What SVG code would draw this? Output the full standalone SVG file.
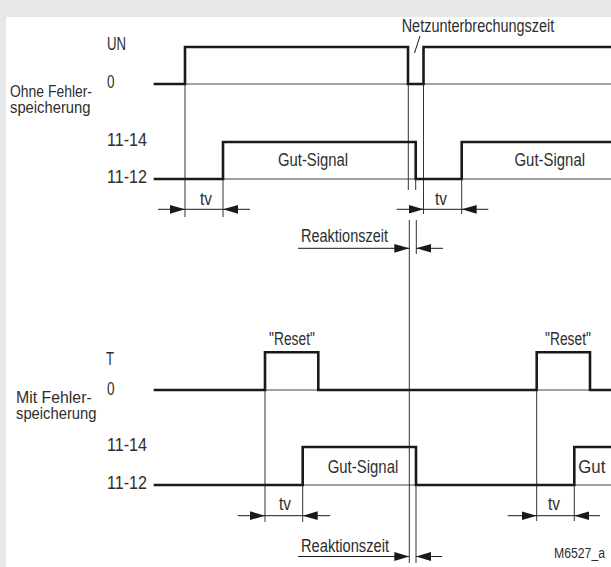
<svg xmlns="http://www.w3.org/2000/svg" width="611" height="567" viewBox="0 0 611 567">
<style>
text{font-family:"Liberation Sans",Arial,sans-serif;font-size:17.5px;fill:#2e2e2e}
.two{font-size:16.5px}
.thin{stroke:#333;stroke-width:1;fill:none}
.base{stroke:#444;stroke-width:1;fill:none}
.thick{stroke:#1a1a1a;stroke-width:2.6;fill:none;stroke-linejoin:miter;stroke-linecap:square}
.arr{stroke:#1a1a1a;stroke-width:1;fill:none;marker-end:url(#ah)}
.dim{stroke:#1a1a1a;stroke-width:1;fill:none}
</style>
<defs>
<marker id="ah" markerUnits="userSpaceOnUse" markerWidth="16" markerHeight="10" refX="15" refY="5" orient="auto">
<path d="M0,0.6 L15,5 L0,9.4 z" fill="#1a1a1a"/>
</marker>
</defs>
<rect x="0" y="0" width="611" height="567" fill="#e6e7e8"/>
<rect x="6" y="17" width="605" height="550" fill="#ffffff"/>

<g id="labels-top">
<text x="107" y="50" textLength="19" lengthAdjust="spacingAndGlyphs">UN</text>
<text x="107" y="87.5" textLength="7.5" lengthAdjust="spacingAndGlyphs">0</text>
<text class="two" x="10" y="96.5" textLength="82" lengthAdjust="spacingAndGlyphs">Ohne Fehler-</text>
<text class="two" x="10" y="112.8" textLength="80.5" lengthAdjust="spacingAndGlyphs">speicherung</text>
<text x="107" y="145.5" textLength="40" lengthAdjust="spacingAndGlyphs">11-14</text>
<text x="107" y="183" textLength="40" lengthAdjust="spacingAndGlyphs">11-12</text>
<text x="278" y="165.5" textLength="70" lengthAdjust="spacingAndGlyphs">Gut-Signal</text>
<text x="514.5" y="165.5" textLength="70.5" lengthAdjust="spacingAndGlyphs">Gut-Signal</text>
<text x="200" y="205" textLength="12" lengthAdjust="spacingAndGlyphs">tv</text>
<text x="435" y="205" textLength="12" lengthAdjust="spacingAndGlyphs">tv</text>
<text x="401.7" y="31.5" textLength="152.6" lengthAdjust="spacingAndGlyphs">Netzunterbrechungszeit</text>
<text x="301" y="241.7" textLength="87" lengthAdjust="spacingAndGlyphs">Reaktionszeit</text>
</g>

<g id="labels-bottom">
<text x="106" y="365" textLength="8" lengthAdjust="spacingAndGlyphs">T</text>
<text x="107" y="395" textLength="7.5" lengthAdjust="spacingAndGlyphs">0</text>
<text class="two" x="16" y="402.6" textLength="75.7" lengthAdjust="spacingAndGlyphs">Mit Fehler-</text>
<text class="two" x="16" y="418.9" textLength="80.5" lengthAdjust="spacingAndGlyphs">speicherung</text>
<text x="269" y="345" textLength="46" lengthAdjust="spacingAndGlyphs">"Reset"</text>
<text x="545" y="345" textLength="46" lengthAdjust="spacingAndGlyphs">"Reset"</text>
<text x="107" y="450.7" textLength="40" lengthAdjust="spacingAndGlyphs">11-14</text>
<text x="107" y="488.5" textLength="40" lengthAdjust="spacingAndGlyphs">11-12</text>
<text x="327.7" y="473.3" textLength="70.6" lengthAdjust="spacingAndGlyphs">Gut-Signal</text>
<text x="578.3" y="473.3" textLength="27" lengthAdjust="spacingAndGlyphs">Gut</text>
<text x="279" y="510" textLength="12" lengthAdjust="spacingAndGlyphs">tv</text>
<text x="548" y="510" textLength="12" lengthAdjust="spacingAndGlyphs">tv</text>
<text x="301" y="551.5" textLength="88" lengthAdjust="spacingAndGlyphs">Reaktionszeit</text>
<text x="554" y="558" style="font-size:14px" textLength="51" lengthAdjust="spacingAndGlyphs">M6527_a</text>
</g>

<g id="connectors">
<line class="base" x1="155" y1="84" x2="611" y2="84"/>
<line class="base" x1="155" y1="179" x2="611" y2="179"/>
<line class="base" x1="155" y1="390" x2="611" y2="390"/>
<line class="base" x1="155" y1="485" x2="611" y2="485"/>

<line class="thin" x1="185" y1="84" x2="185" y2="217"/>
<line class="thin" x1="223" y1="179" x2="223" y2="217"/>
<line class="thin" x1="408.3" y1="84" x2="408.3" y2="190"/>
<line class="thin" x1="415.7" y1="179" x2="415.7" y2="190"/>
<line class="thin" x1="423.5" y1="84" x2="423.5" y2="214"/>
<line class="thin" x1="461.7" y1="179" x2="461.7" y2="214"/>
<line class="thin" x1="409.3" y1="220" x2="409.3" y2="563"/>
<line class="thin" x1="416.3" y1="220" x2="416.3" y2="254"/>

<line class="thin" x1="265" y1="390" x2="265" y2="522"/>
<line class="thin" x1="302.7" y1="485" x2="302.7" y2="522"/>
<line class="thin" x1="416" y1="485" x2="416" y2="563"/>
<line class="thin" x1="536.7" y1="390" x2="536.7" y2="521"/>
<line class="thin" x1="574.3" y1="485" x2="574.3" y2="521"/>

<path class="thick" d="M155,84 H185 V47 H408 V84 H423.5 V47 H612"/>
<path class="thick" d="M155,179 H223 V142 H415.7 V179 H461.7 V142 H612"/>
<path class="thick" d="M155,390 H265 V352.3 H318.3 V390 H536.7 V352.3 H590 V390 H612"/>
<path class="thick" d="M155,485 H302.7 V447 H416 V485 H574.3 V447 H612"/>

<line class="dim" x1="420" y1="36" x2="414.5" y2="53"/>

<line class="dim" x1="185" y1="209.3" x2="223" y2="209.3"/>
<line class="arr" x1="158" y1="209.3" x2="185" y2="209.3"/>
<line class="arr" x1="250" y1="209.3" x2="223" y2="209.3"/>
<line class="dim" x1="423.5" y1="209.3" x2="461.7" y2="209.3"/>
<line class="arr" x1="396.7" y1="209.3" x2="423.5" y2="209.3"/>
<line class="arr" x1="488.3" y1="209.3" x2="461.7" y2="209.3"/>

<line class="arr" x1="298" y1="248.3" x2="409.3" y2="248.3"/>
<line class="arr" x1="443" y1="248.3" x2="416.3" y2="248.3"/>

<line class="dim" x1="265" y1="515.7" x2="302.7" y2="515.7"/>
<line class="arr" x1="237.7" y1="515.7" x2="265" y2="515.7"/>
<line class="arr" x1="330" y1="515.7" x2="302.7" y2="515.7"/>
<line class="dim" x1="536.7" y1="515.7" x2="574.3" y2="515.7"/>
<line class="arr" x1="507.7" y1="515.7" x2="536.7" y2="515.7"/>
<line class="arr" x1="600" y1="515.7" x2="574.3" y2="515.7"/>

<line class="arr" x1="298" y1="556.5" x2="409.3" y2="556.5"/>
<line class="arr" x1="442" y1="556.5" x2="416" y2="556.5"/>
</g>
</svg>
